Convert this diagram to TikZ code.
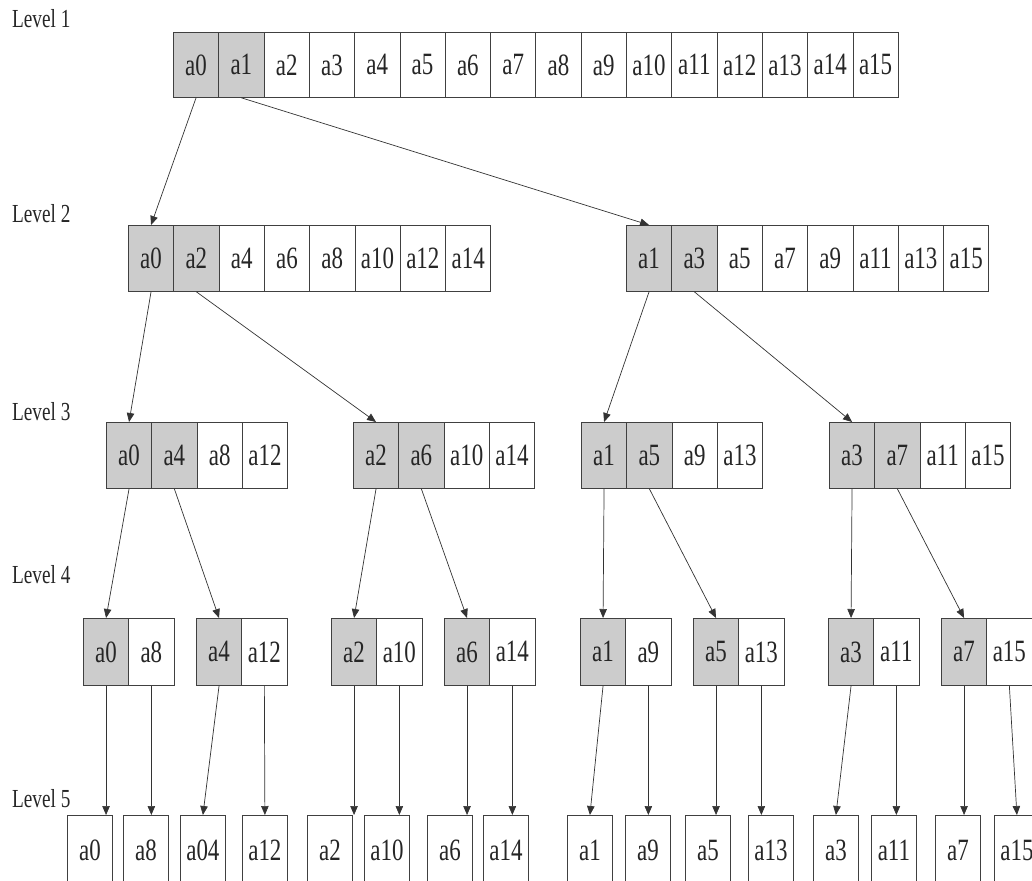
\documentclass[tikz,border=0pt]{standalone}
\usepackage{fontspec}
\setmainfont{Liberation Serif}[FakeStretch=0.74]
\usetikzlibrary{arrows.meta}

\tikzset{
  cell/.style={draw=black!75, line width=0.8pt, fill=white, inner sep=0pt,
    minimum width=45.3pt, minimum height=65pt, anchor=north west,
    font=\fontsize{31}{34}\selectfont, text=black!85},
  hot/.style={cell, fill=black!20},
  lvl/.style={anchor=base west, inner sep=0pt, font=\fontsize{26}{28}\selectfont, text=black!85},
  link/.style={draw=black!80, line width=0.7pt, -{Triangle[length=9pt,width=7.5pt]}}
}

\begin{document}
\begin{tikzpicture}[x=1pt,y=-1pt]

  \useasboundingbox (0,0) rectangle (1032,880);

  \newcommand\W{45.3}
  \newcommand\YA{32}
  \newcommand\YB{225}
  \newcommand\YC{422}
  \newcommand\YD{618}
  \newcommand\YE{815}

  % level labels
  \node[lvl] (lev1) at (12, 28) {Level 1};
  \node[lvl] (lev2) at (12, 222) {Level 2};
  \node[lvl] (lev3) at (12, 420) {Level 3};
  \node[lvl] (lev4) at (12, 583) {Level 4};
  \node[lvl] (lev5) at (12, 807) {Level 5};

  % level 1
  \foreach \e/\s [count=\i from 0] in {0/hot,1/hot,2/cell,3/cell,4/cell,5/cell,6/cell,7/cell,
      8/cell,9/cell,10/cell,11/cell,12/cell,13/cell,14/cell,15/cell}
    \node[\s] (l1a\e) at (173+\i*\W, \YA) {a\e};

  % level 2
  \foreach \e/\s [count=\i from 0] in {0/hot,2/hot,4/cell,6/cell,8/cell,10/cell,12/cell,14/cell}
    \node[\s, minimum height=66pt] (l2a\e) at (128+\i*\W, \YB) {a\e};
  \foreach \e/\s [count=\i from 0] in {1/hot,3/hot,5/cell,7/cell,9/cell,11/cell,13/cell,15/cell}
    \node[\s, minimum height=66pt] (l2a\e) at (626+\i*\W, \YB) {a\e};

  % level 3
  \foreach \x/\p in {106/{0,4,8,12}, 353/{2,6,10,14}, 581/{1,5,9,13}, 829/{3,7,11,15}}
    \foreach \e [count=\i from 0] in \p {
      \ifnum\i<2 \def\s{hot}\else \def\s{cell}\fi
      \node[\s, minimum height=66pt] (l3a\e) at (\x+\i*\W, \YC) {a\e};
    }

  % level 4
  \foreach \x/\a/\b in {83/0/8, 196/4/12, 331/2/10, 444/6/14,
      580/1/9, 693/5/13, 828/3/11, 941/7/15} {
    \node[hot, minimum height=67pt] (l4a\a) at (\x, \YD) {a\a};
    \node[cell, minimum height=67pt] (l4a\b) at (\x+\W, \YD) {a\b};
  }

  % level 5
  \foreach \x/\e/\t in {67/0/a0, 123/8/a8, 180/4/a04, 242/12/a12, 307/2/a2, 364/10/a10,
      427/6/a6, 483/14/a14, 567/1/a1, 625/9/a9, 685/5/a5, 748/13/a13,
      813/3/a3, 871/11/a11, 935/7/a7, 994/15/a15}
    \node[cell, minimum width=45pt, minimum height=70pt] (l5a\e) at (\x, \YE) {\t};

  % links
  \draw[link] (l1a0.south) -- (l2a0.north);
  \draw[link] (l1a1.south) -- (l2a1.north);

  \draw[link] (l2a0.south) -- (l3a0.north);
  \draw[link] (l2a2.south) -- (l3a2.north);
  \draw[link] (l2a1.south) -- (l3a1.north);
  \draw[link] (l2a3.south) -- (l3a3.north);

  \foreach \a/\b in {0/4, 2/6, 1/5, 3/7} {
    \draw[link] (l3a\a.south) -- (l4a\a.north);
    \draw[link] (l3a\b.south) -- (l4a\b.north);
  }

  % straight down where the boxes line up, slanted elsewhere
  \foreach \e in {0,8,2,10,6,14,9,5,13,11,7}
    \draw[link] (l4a\e.south) -- (l4a\e.south |- l5a\e.north);
  \foreach \e in {4,12,1,3,15}
    \draw[link] (l4a\e.south) -- (l5a\e.north);

\end{tikzpicture}
\end{document}
